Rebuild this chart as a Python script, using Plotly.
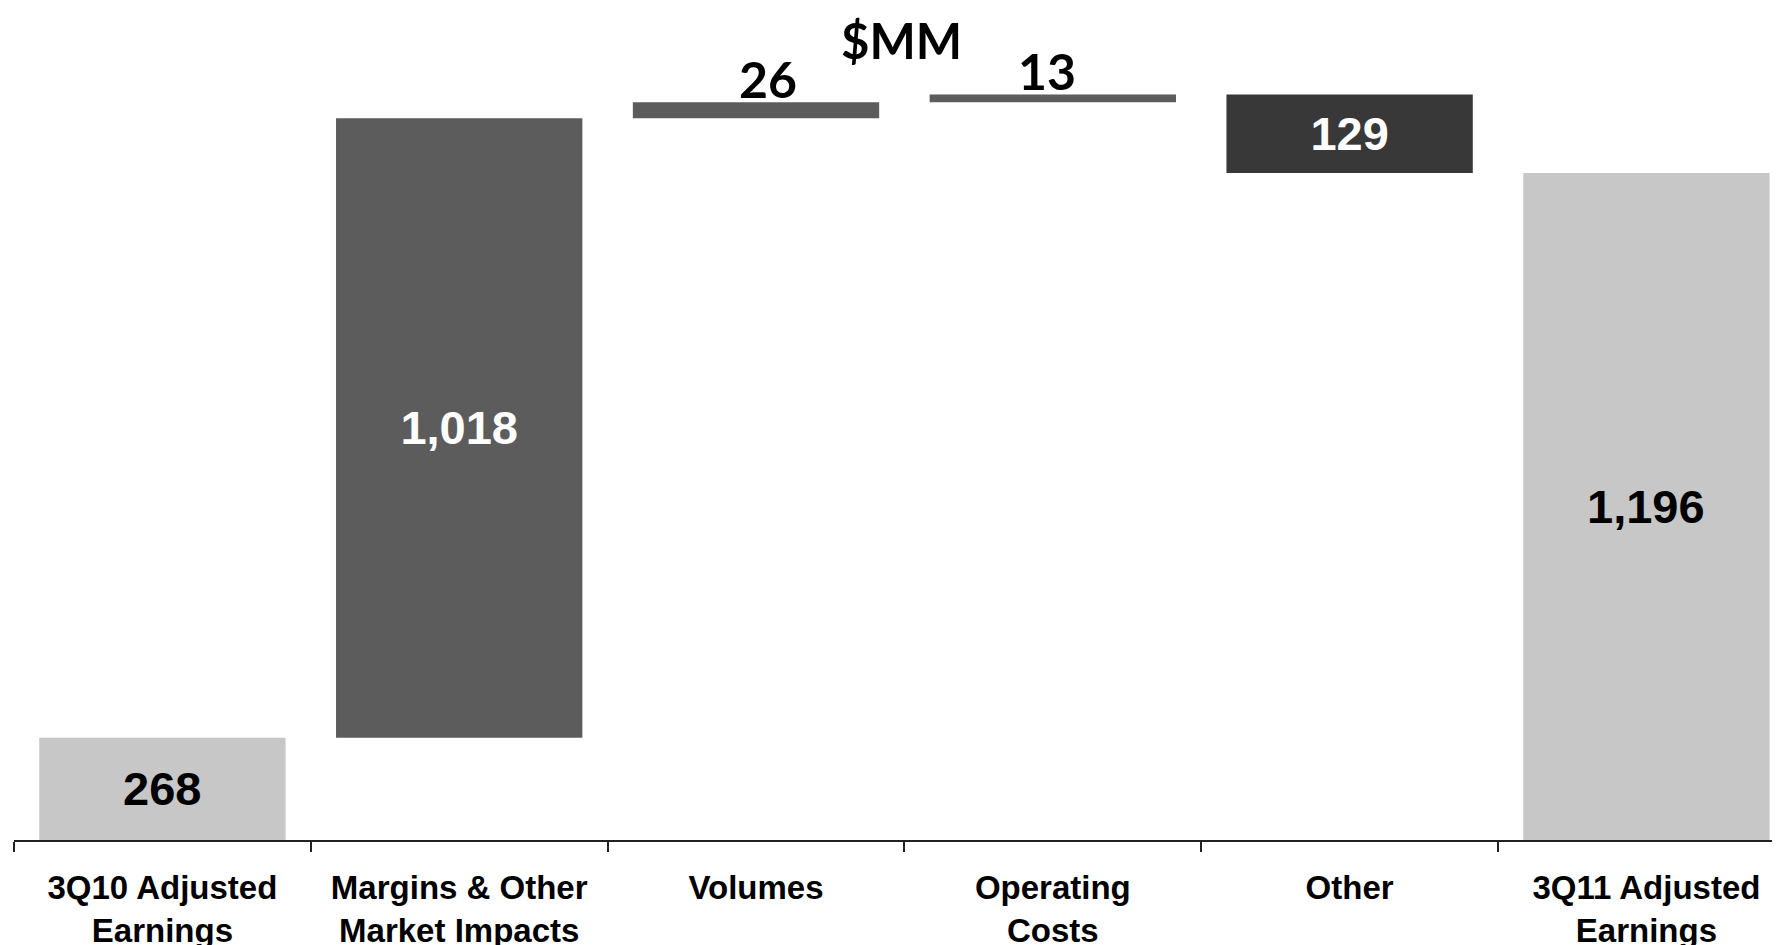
import plotly.graph_objects as go

# waterfall steps, $MM
categories = ["3Q10 Adjusted<br>Earnings", "Margins & Other<br>Market Impacts", "Volumes",
              "Operating<br>Costs", "Other", "3Q11 Adjusted<br>Earnings"]
measures = ["absolute", "relative", "relative", "relative", "relative", "total"]
values = [268, 1018, 26, 13, -129, 1196]
outside_labels = ["Volumes", "Operating<br>Costs"]  # thin bars get their number above

Y_MIN, Y_MAX = 100, 1467  # axis does not start at zero

# label text: inside for the step bars, annotations for the rest
inside_text = ["" if (c in outside_labels or m != "relative") else f"{abs(v):,}"
               for c, m, v in zip(categories, measures, values)]

fig = go.Figure()
fig.add_trace(go.Waterfall(
    x=categories,
    y=values,
    measure=measures,
    text=inside_text,
    textposition="inside",
    insidetextanchor="middle",
    constraintext="none",
    textfont=dict(family="Liberation Sans, Arial, sans-serif", size=47, color="white", weight="bold"),
    width=0.83,
    increasing=dict(marker=dict(color="#5c5c5c")),
    decreasing=dict(marker=dict(color="#383838")),
    totals=dict(marker=dict(color="#c7c7c7")),
    connector=dict(visible=False),
    hoverinfo="skip",
))

running = 0
shifts = {"Volumes": 12, "Operating<br>Costs": -6}
for c, m, v in zip(categories, measures, values):
    running = v if m in ("absolute", "total") else running + v
    if c in outside_labels:
        # numbers above the thin bars, at the running total
        fig.add_annotation(
            x=c, y=running, text=f"{abs(v):,}", showarrow=False,
            yanchor="bottom", yshift=-9, xshift=shifts[c],
            font=dict(family="Lato, sans-serif", size=50, color="black", weight="bold"),
        )
    elif m != "relative":
        # totals: centre in the visible part of the bar
        fig.add_annotation(
            x=c, y=(Y_MIN + running) / 2, text=f"{running:,}", showarrow=False,
            yanchor="middle",
            font=dict(family="Liberation Sans, Arial, sans-serif", size=47, color="black", weight="bold"),
        )

fig.add_annotation(
    x=0.5, y=1, xref="paper", yref="paper", text="$MM", showarrow=False,
    yanchor="top", yshift=-1,
    font=dict(family="Lato, sans-serif", size=49, color="black", weight="bold"),
)

fig.update_layout(
    width=1780, height=945,
    margin=dict(l=6, r=0, t=0, b=113),
    paper_bgcolor="white", plot_bgcolor="white",
    showlegend=False,
    xaxis=dict(
        type="category", range=[-0.5, 5.477], tickson="boundaries",
        ticks="outside", ticklen=10, tickwidth=2, tickcolor="#222",
        showline=True, linecolor="#222", linewidth=2,
        showgrid=False, automargin=False, ticklabelstandoff=17,
        tickfont=dict(family="Liberation Sans, Arial, sans-serif", size=33, color="black", weight="bold"),
    ),
    yaxis=dict(range=[Y_MIN, Y_MAX], visible=False, showgrid=False, zeroline=False),
)

fig.write_html("out.html")
